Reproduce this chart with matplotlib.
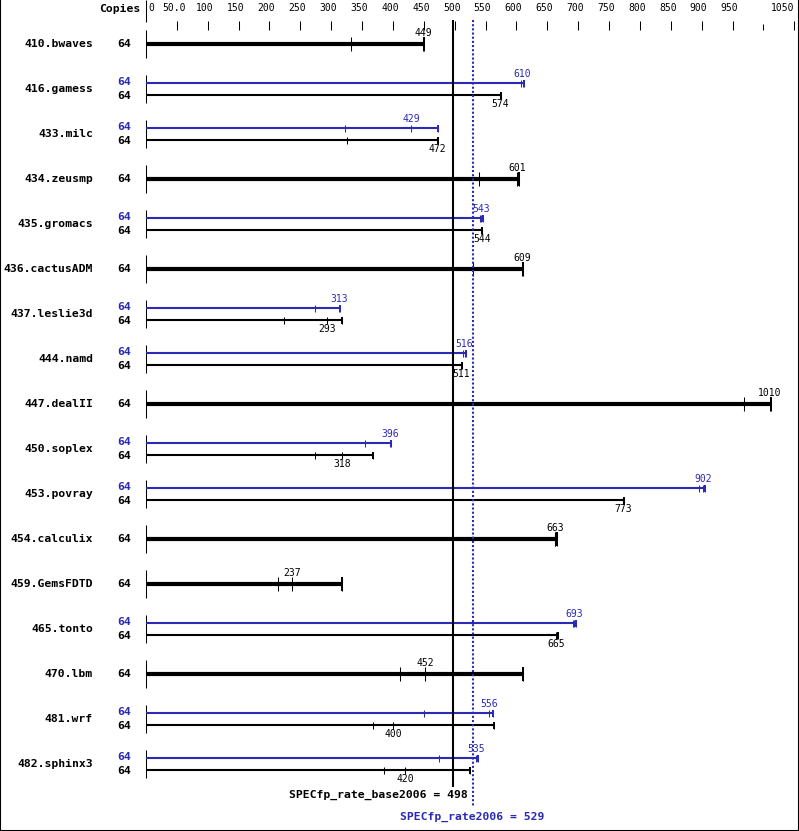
import matplotlib.pyplot as plt

# benchmark rows, top to bottom
benchmarks = ['410.bwaves', '416.gamess', '433.milc', '434.zeusmp', '435.gromacs',
              '436.cactusADM', '437.leslie3d', '444.namd', '447.dealII', '450.soplex',
              '453.povray', '454.calculix', '459.GemsFDTD', '465.tonto', '470.lbm',
              '481.wrf', '482.sphinx3']
copies = [64] * len(benchmarks)

# base (black): median ratio + the three run ratios
base_median = [449, 574, 472, 601, 544, 609, 293, 511, 1010, 318, 773, 663, 237, 665, 452, 400, 420]
base_runs = [[332, 449, 451], [573, 574, 575], [326, 472, 473], [540, 601, 604],
             [542, 544, 545], [530, 609, 611], [223, 293, 318], [510, 511, 512],
             [969, 1010, 1012], [273, 318, 368], [772, 773, 775], [662, 663, 666],
             [213, 237, 318], [664, 665, 668], [411, 452, 611], [367, 400, 563],
             [386, 420, 524]]

# peak (blue): None where only a base result is shown
peak_median = [None, 610, 429, None, 543, None, 313, 516, None, 396, 902, None, None, 693, None, 556, 535]
peak_runs = [None, [607, 610, 612], [322, 429, 473], None, [541, 543, 546], None,
             [273, 313, 314], [514, 516, 518], None, [355, 396, 397], [896, 902, 905],
             None, None, [691, 693, 696], None, [451, 556, 562], [474, 535, 537]]

tick_values = [0, 50, 100, 150, 200, 250, 300, 350, 400, 450, 500, 550,
               600, 650, 700, 750, 800, 850, 900, 950, 1050]
tick_labels = ['0', '50.0', '100', '150', '200', '250', '300', '350', '400', '450', '500',
               '550', '600', '650', '700', '750', '800', '850', '900', '950', '1050']
minor_ticks = [1000]

base_score = 498
peak_score = 529

BLUE = '#2a2ab4'
W, H = 799, 831
X0 = 146          # pixel of value 0
SCALE = 0.6174    # pixels per unit
PX = 1 / SCALE    # one pixel in data units
ROW0, ROWSTEP = 44, 45

mono = 'DejaVu Sans Mono'
name_font = dict(family=mono, fontsize=8.2, fontweight='bold')
val_font = dict(family=mono, fontsize=7)

fig = plt.figure(figsize=(W / 100, H / 100), dpi=100)
ax = fig.add_axes([0, 0, 1, 1])
ax.set_xlim(-X0 / SCALE, (W - X0) / SCALE)
ax.set_ylim(H, 0)
ax.set_xticks([])
ax.set_yticks([])
ax.spines['top'].set_visible(False)
for s in ['left', 'right', 'bottom']:
    ax.spines[s].set_linewidth(1.5)

# header: scale labels and ticks
ax.text(-6 * PX, 9, 'Copies', ha='right', va='center', **name_font)
ax.vlines(0, 0, 22, color='black', lw=0.75)
for v, lab in zip(tick_values, tick_labels):
    if v == 0:
        ax.text(v + 2 * PX, 8, lab, ha='left', va='center', **val_font)
        continue
    if v == tick_values[-1]:
        ax.text(v, 8, lab, ha='right', va='center', **val_font)
    else:
        ax.text(v - 3 * PX, 8, lab, ha='center', va='center', **val_font)
    ax.vlines(v, 20.5, 30, color='black', lw=0.75)
ax.vlines(minor_ticks, 24, 30, color='black', lw=0.75)

for i, name in enumerate(benchmarks):
    yc = ROW0 + ROWSTEP * i
    ax.text(-53 * PX, yc, name, ha='right', va='center', **name_font)
    ax.vlines(0, yc - 14, yc + 14, color='black', lw=0.75)
    if peak_runs[i] is None:
        runs = base_runs[i]
        ax.hlines(yc, 0, max(runs), color='black', lw=3.0)
        ax.vlines(runs, yc - 7, yc + 7, color='black', lw=0.75)
        ax.vlines(max(runs), yc - 7, yc + 7, color='black', lw=1.4)
        ax.text(base_median[i], yc - 6, str(base_median[i]), ha='center', va='bottom', **val_font)
        ax.text(-22 * PX, yc, str(copies[i]), ha='center', va='center', **name_font)
    else:
        yp, yb = yc - 6, yc + 6
        runs = peak_runs[i]
        ax.hlines(yp, 0, max(runs), color=BLUE, lw=1.5)
        ax.vlines(runs, yp - 3.5, yp + 3.5, color=BLUE, lw=0.75)
        ax.vlines(max(runs), yp - 3.5, yp + 3.5, color=BLUE, lw=1.4)
        ax.text(peak_median[i], yp - 4, str(peak_median[i]), ha='center', va='bottom',
                color=BLUE, **val_font)
        ax.text(-22 * PX, yp - 1, str(copies[i]), ha='center', va='center', color=BLUE, **name_font)
        runs = base_runs[i]
        ax.hlines(yb, 0, max(runs), color='black', lw=1.5)
        ax.vlines(runs, yb - 3.5, yb + 3.5, color='black', lw=0.75)
        ax.vlines(max(runs), yb - 3.5, yb + 3.5, color='black', lw=1.4)
        ax.text(base_median[i], yb + 4, str(base_median[i]), ha='center', va='top', **val_font)
        ax.text(-22 * PX, yb + 1, str(copies[i]), ha='center', va='center', **name_font)

# overall scores
ax.vlines(base_score, 20, 787, color='black', lw=1.5)
ax.vlines(peak_score, 20, 807, color=BLUE, lw=1.5, linestyles=(0, (1, 1)))
ax.text(base_score + 14 * PX, 795, 'SPECfp_rate_base2006 = %d' % base_score,
        ha='right', va='center', **name_font)
ax.text(peak_score, 817, 'SPECfp_rate2006 = %d' % peak_score,
        ha='center', va='center', color=BLUE, **name_font)

fig.savefig('out.png', dpi=100)
